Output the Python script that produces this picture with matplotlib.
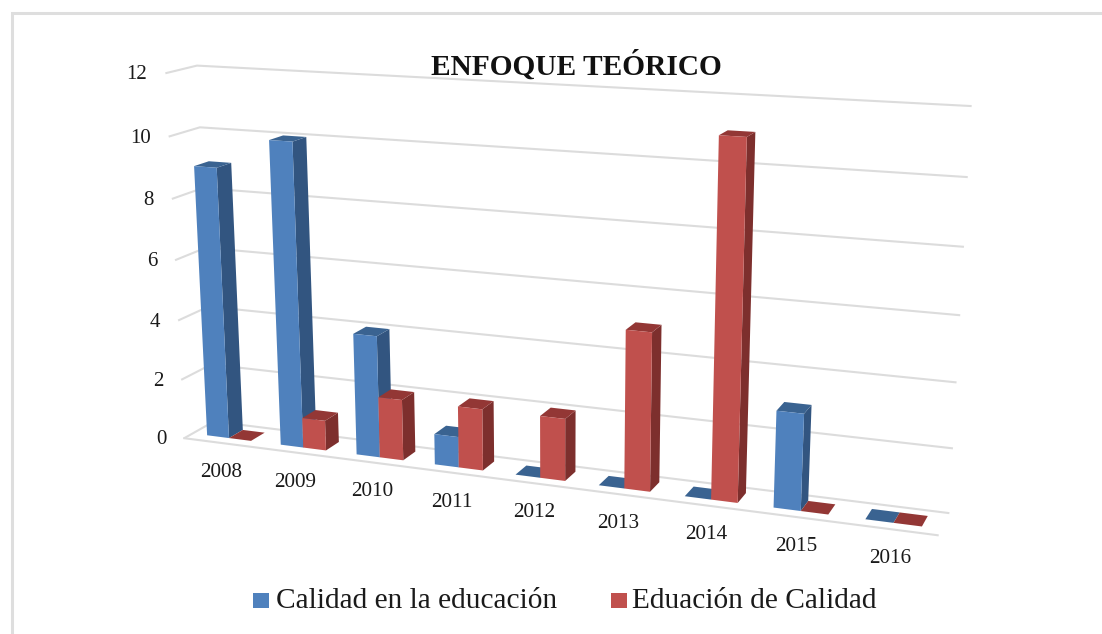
"""Enfoque teorico - 3D style clustered columns, drawn with a fitted perspective."""
import matplotlib
matplotlib.use('Agg')
import matplotlib.pyplot as plt
from matplotlib.patches import Rectangle
from matplotlib.transforms import Transform
import numpy as np

years = ['2008', '2009', '2010', '2011', '2012', '2013', '2014', '2015', '2016']
calidad_educacion = [9, 10, 4, 1, 0, 0, 0, 3, 0]
educacion_calidad = [0, 1, 2, 2, 2, 5, 11, 0, 0]
y_ticks = [0, 2, 4, 6, 8, 10, 12]

BLUE = ('#4F81BD', '#3A6391', '#325580')   # front, top, side
RED = ('#C0504D', '#933735', '#7D2F2D')
GRID = '#DCDCDC'

# anchor points for the camera: (category, depth, value) -> pixel
ANCHORS = [
    ((0, 0, 0), (186, 437)), ((0, 0, 4), (178, 320)),
    ((0, 0, 10), (168, 137)), ((0, 0, 12), (164, 74)),
    ((0, 1, 0), (212, 423)), ((0, 1, 10), (201, 127)),
    ((0, 1, 12), (198, 65)), ((9, 0, 0), (938, 536)),
    ((9, 1, 0), (949, 512)), ((9, 1, 4), (957, 383)),
    ((9, 1, 10), (967, 177)), ((9, 1, 12), (972, 106)),
]


def fit_camera(anchors):
    rows, rhs = [], []
    for (x, d, v), (px, py) in anchors:
        rows.append([x, d, v, 1, 0, 0, 0, 0, -px * x, -px * d, -px * v])
        rows.append([0, 0, 0, 0, x, d, v, 1, -py * x, -py * d, -py * v])
        rhs += [px, py]
    sol = np.linalg.lstsq(np.array(rows, float), np.array(rhs, float), rcond=None)[0]
    return np.append(sol, 1.0).reshape(3, 4)


CAMERA = fit_camera(ANCHORS)


def project(x, d, v):
    p = CAMERA @ np.array([x, d, v, 1.0])
    return p[0] / p[2], p[1] / p[2]


class FaceTransform(Transform):
    """(category, value) on a plane of constant depth -> pixel."""
    input_dims = 2
    output_dims = 2
    has_inverse = False

    def __init__(self, plane):
        super().__init__()
        self.plane = plane

    def transform_non_affine(self, values):
        values = np.asarray(values, float)
        pts = np.column_stack([values[:, 0], np.full(len(values), self.plane),
                               values[:, 1], np.ones(len(values))])
        out = pts @ CAMERA.T
        return out[:, :2] / out[:, 2:]


fig = plt.figure(figsize=(11.02, 6.34), dpi=100)
ax = fig.add_axes([0, 0, 1, 1])
ax.set_xlim(0, 1102)
ax.set_ylim(634, 0)
ax.axis('off')
plt.rcParams['font.family'] = ['Liberation Serif', 'DejaVu Serif']

# outer frame of the pasted chart
ax.plot([12, 12, 1102], [634, 13, 13], color='#DEDEDE', lw=2.2, solid_joinstyle='miter', zorder=1)

# walls and floor lines
for tick in y_ticks:
    pts = [project(0, 0, tick), project(0, 1, tick), project(9, 1, tick)]
    ax.plot(*zip(*pts), color=GRID, lw=1.5, zorder=2, solid_capstyle='butt')
    px, py = project(0, 0, tick)
    ax.text(px - 18, py + 1.5, str(tick), ha='right', va='center', fontsize=15,
            color='#1A1A1A', zorder=3)
ax.plot(*zip(project(0, 0, 0), project(9, 0, 0)), color=GRID, lw=1.5, zorder=2)

# columns, left to right so that each one covers the side of the last
D0, D1 = 0.28, 0.76
OFFSET, WIDTH = 0.20, 0.30
front = FaceTransform(D0) + ax.transData
zorder = 4
for i, year in enumerate(years):
    for j, (value, cols) in enumerate([(calidad_educacion[i], BLUE), (educacion_calidad[i], RED)]):
        x0 = i + OFFSET + j * WIDTH
        x1 = x0 + WIDTH
        top = [project(x0, D0, value), project(x1, D0, value),
               project(x1, D1, value), project(x0, D1, value)]
        side = [project(x1, D0, 0), project(x1, D1, 0),
                project(x1, D1, value), project(x1, D0, value)]
        ax.fill(*zip(*side), color=cols[2], lw=0, zorder=zorder)
        ax.fill(*zip(*top), color=cols[1], lw=0, zorder=zorder)
        ax.bar(x0, value, WIDTH, align='edge', color=cols[0], lw=0,
               transform=front, zorder=zorder + 0.5)
        zorder += 1
    px, py = project(i + 0.5, 0, 0)
    ax.text(px, py + 29.5, year, ha='center', va='center', fontsize=15.2,
            color='#1A1A1A', zorder=30)

# bar() touches the limits
ax.set_xlim(0, 1102)
ax.set_ylim(634, 0)

ax.text(576, 66, 'ENFOQUE TEÓRICO', ha='center', va='center', fontsize=21.2,
        fontweight='bold', color='#111111', zorder=30)

# legend
for x, label, color, tx in [(253, 'Calidad en la educación', BLUE[0], 276),
                            (611, 'Eduación de Calidad', RED[0], 632)]:
    ax.add_patch(Rectangle((x, 593), 16, 14.5, facecolor=color, edgecolor='none', zorder=30))
    ax.text(tx, 601, label, ha='left', va='center', fontsize=21.2, color='#1A1A1A', zorder=30)

fig.savefig('out.png', dpi=100, facecolor='white')
